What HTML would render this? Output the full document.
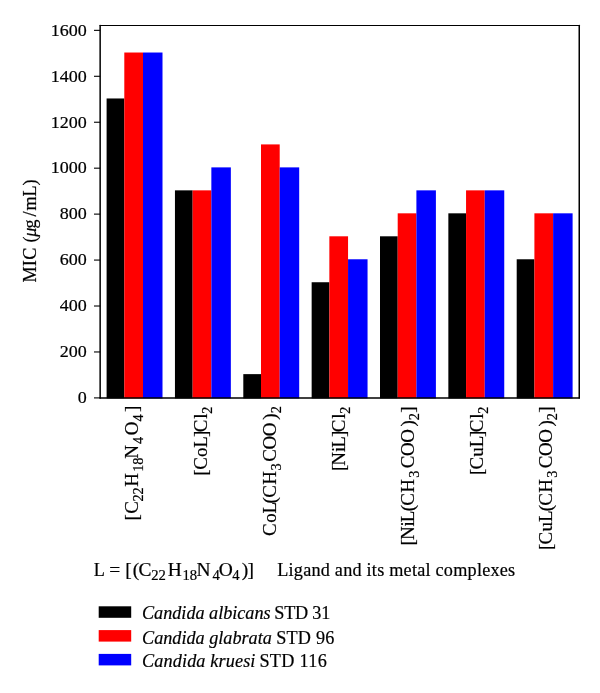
<!DOCTYPE html>
<html lang="en"><head><meta charset="utf-8"><title>MIC chart</title>
<style>
html,body{margin:0;padding:0;background:#fff}
svg{display:block}
text{font-family:"Liberation Serif",serif;fill:#000;stroke:#000;stroke-width:0.2}
.i{font-style:italic}
</style></head><body>
<svg width="600" height="693" viewBox="0 0 600 693">
<rect width="600" height="693" fill="#fff"/>
<rect x="106.60" y="98.47" width="17.70" height="299.93" fill="#000000"/>
<rect x="124.30" y="52.52" width="18.70" height="345.88" fill="#ff0000"/>
<rect x="143.00" y="52.52" width="19.50" height="345.88" fill="#0000ff"/>
<rect x="174.95" y="190.35" width="17.70" height="208.05" fill="#000000"/>
<rect x="192.65" y="190.35" width="18.70" height="208.05" fill="#ff0000"/>
<rect x="211.35" y="167.38" width="19.50" height="231.02" fill="#0000ff"/>
<rect x="243.30" y="374.13" width="17.70" height="24.27" fill="#000000"/>
<rect x="261.00" y="144.41" width="18.70" height="253.99" fill="#ff0000"/>
<rect x="279.70" y="167.38" width="19.50" height="231.02" fill="#0000ff"/>
<rect x="311.65" y="282.24" width="17.70" height="116.16" fill="#000000"/>
<rect x="329.35" y="236.30" width="18.70" height="162.10" fill="#ff0000"/>
<rect x="348.05" y="259.27" width="19.50" height="139.13" fill="#0000ff"/>
<rect x="380.00" y="236.30" width="17.70" height="162.10" fill="#000000"/>
<rect x="397.70" y="213.32" width="18.70" height="185.07" fill="#ff0000"/>
<rect x="416.40" y="190.35" width="19.50" height="208.05" fill="#0000ff"/>
<rect x="448.35" y="213.32" width="17.70" height="185.07" fill="#000000"/>
<rect x="466.05" y="190.35" width="18.70" height="208.05" fill="#ff0000"/>
<rect x="484.75" y="190.35" width="19.50" height="208.05" fill="#0000ff"/>
<rect x="516.70" y="259.27" width="17.70" height="139.13" fill="#000000"/>
<rect x="534.40" y="213.32" width="18.70" height="185.07" fill="#ff0000"/>
<rect x="553.10" y="213.32" width="19.50" height="185.07" fill="#0000ff"/>
<g stroke="#000" fill="none" stroke-linecap="round">
<line x1="100.15" y1="25.50" x2="579.25" y2="25.50" stroke-width="1.2"/>
<line x1="579.25" y1="25.50" x2="579.25" y2="397.95" stroke-width="1.5"/>
<line x1="100.15" y1="397.95" x2="579.25" y2="397.95" stroke-width="1.65"/>
<line x1="100.15" y1="25.50" x2="100.15" y2="397.95" stroke-width="1.5"/>
<line x1="94" y1="397.90" x2="100.15" y2="397.90" stroke-width="1.1" stroke-linecap="butt"/>
<line x1="94" y1="351.96" x2="100.15" y2="351.96" stroke-width="1.1" stroke-linecap="butt"/>
<line x1="94" y1="306.01" x2="100.15" y2="306.01" stroke-width="1.1" stroke-linecap="butt"/>
<line x1="94" y1="260.07" x2="100.15" y2="260.07" stroke-width="1.1" stroke-linecap="butt"/>
<line x1="94" y1="214.12" x2="100.15" y2="214.12" stroke-width="1.1" stroke-linecap="butt"/>
<line x1="94" y1="168.18" x2="100.15" y2="168.18" stroke-width="1.1" stroke-linecap="butt"/>
<line x1="94" y1="122.24" x2="100.15" y2="122.24" stroke-width="1.1" stroke-linecap="butt"/>
<line x1="94" y1="76.29" x2="100.15" y2="76.29" stroke-width="1.1" stroke-linecap="butt"/>
<line x1="94" y1="30.35" x2="100.15" y2="30.35" stroke-width="1.1" stroke-linecap="butt"/>
</g>
<text transform="translate(86.70,403.20) scale(1.03,1)" font-size="17.5" text-anchor="end">0</text>
<text transform="translate(86.70,357.26) scale(1.03,1)" font-size="17.5" text-anchor="end">200</text>
<text transform="translate(86.70,311.31) scale(1.03,1)" font-size="17.5" text-anchor="end">400</text>
<text transform="translate(86.70,265.37) scale(1.03,1)" font-size="17.5" text-anchor="end">600</text>
<text transform="translate(86.70,219.43) scale(1.03,1)" font-size="17.5" text-anchor="end">800</text>
<text transform="translate(86.70,173.48) scale(1.03,1)" font-size="17.5" text-anchor="end">1000</text>
<text transform="translate(86.70,127.54) scale(1.03,1)" font-size="17.5" text-anchor="end">1200</text>
<text transform="translate(86.70,81.59) scale(1.03,1)" font-size="17.5" text-anchor="end">1400</text>
<text transform="translate(86.70,35.65) scale(1.03,1)" font-size="17.5" text-anchor="end">1600</text>
<text transform="translate(138.20,0) rotate(-90) scale(1.04,1)" font-size="18.2"><tspan x="-500.49">[</tspan><tspan x="-494.02">C</tspan><tspan x="-482.33" dy="4.8" font-size="13.7">22</tspan><tspan x="-468.02" dy="-4.8">H</tspan><tspan x="-453.70" dy="4.8" font-size="13.7">18</tspan><tspan x="-441.01" dy="-4.8">N</tspan><tspan x="-427.00" dy="4.8" font-size="13.7">4</tspan><tspan x="-418.63" dy="-4.8">O</tspan><tspan x="-405.27" dy="4.8" font-size="13.7">4</tspan><tspan x="-396.14" dy="-4.8">]</tspan></text>
<text transform="translate(207.30,0) rotate(-90) scale(1.04,1)" font-size="18.2"><tspan x="-457.41">[</tspan><tspan x="-451.80">C</tspan><tspan x="-439.54">o</tspan><tspan x="-430.52">L</tspan><tspan x="-420.18">]</tspan><tspan x="-415.55">C</tspan><tspan x="-402.77">l</tspan><tspan x="-397.91" dy="4.8" font-size="13.7">2</tspan></text>
<text transform="translate(276.00,0) rotate(-90) scale(1.04,1)" font-size="18.2"><tspan x="-515.46">C</tspan><tspan x="-502.71">o</tspan><tspan x="-493.70">L</tspan><tspan x="-484.17">(</tspan><tspan x="-478.73">C</tspan><tspan x="-466.10">H</tspan><tspan x="-452.39" dy="4.8" font-size="13.7">3</tspan><tspan x="-444.02" dy="-4.8">C</tspan><tspan x="-432.28">O</tspan><tspan x="-419.59">O</tspan><tspan x="-403.66">)</tspan><tspan x="-397.43" dy="4.8" font-size="13.7">2</tspan></text>
<text transform="translate(345.30,0) rotate(-90) scale(1.04,1)" font-size="18.2"><tspan x="-452.89">[</tspan><tspan x="-447.83">N</tspan><tspan x="-434.71">i</tspan><tspan x="-430.43">L</tspan><tspan x="-420.18">]</tspan><tspan x="-415.55">C</tspan><tspan x="-402.77">l</tspan><tspan x="-397.91" dy="4.8" font-size="13.7">2</tspan></text>
<text transform="translate(414.20,0) rotate(-90) scale(1.04,1)" font-size="18.2"><tspan x="-524.52">[</tspan><tspan x="-519.27">N</tspan><tspan x="-506.15">i</tspan><tspan x="-502.06">L</tspan><tspan x="-491.67">(</tspan><tspan x="-486.23">C</tspan><tspan x="-473.70">H</tspan><tspan x="-459.41" dy="4.8" font-size="13.7">3</tspan><tspan x="-450.31" dy="-4.8">C</tspan><tspan x="-438.44">O</tspan><tspan x="-425.84">O</tspan><tspan x="-410.20">)</tspan><tspan x="-404.06" dy="4.8" font-size="13.7">2</tspan><tspan x="-396.91" dy="-4.8">]</tspan></text>
<text transform="translate(483.30,0) rotate(-90) scale(1.04,1)" font-size="18.2"><tspan x="-456.83">[</tspan><tspan x="-451.52">C</tspan><tspan x="-439.09">u</tspan><tspan x="-429.95">L</tspan><tspan x="-420.18">]</tspan><tspan x="-415.55">C</tspan><tspan x="-402.77">l</tspan><tspan x="-397.91" dy="4.8" font-size="13.7">2</tspan></text>
<text transform="translate(552.20,0) rotate(-90) scale(1.04,1)" font-size="18.2"><tspan x="-528.85">[</tspan><tspan x="-523.53">C</tspan><tspan x="-511.11">u</tspan><tspan x="-501.97">L</tspan><tspan x="-491.67">(</tspan><tspan x="-486.23">C</tspan><tspan x="-473.70">H</tspan><tspan x="-459.41" dy="4.8" font-size="13.7">3</tspan><tspan x="-450.31" dy="-4.8">C</tspan><tspan x="-438.44">O</tspan><tspan x="-425.84">O</tspan><tspan x="-410.20">)</tspan><tspan x="-404.06" dy="4.8" font-size="13.7">2</tspan><tspan x="-396.91" dy="-4.8">]</tspan></text>
<text transform="translate(36.20,0) rotate(-90) scale(1.0,1)" font-size="18.2"><tspan x="-282.42">M</tspan><tspan x="-266.16">I</tspan><tspan x="-259.85">C </tspan><tspan x="-242.55">(</tspan><tspan x="-236.78" class="i">μ</tspan><tspan x="-228.38">g</tspan><tspan x="-216.60">/</tspan><tspan x="-210.58">m</tspan><tspan x="-196.62">L</tspan><tspan x="-185.44">)</tspan></text>
<text transform="translate(0,575.70) scale(1.0,1)" font-size="18.2"><tspan x="93.68">L </tspan></text>
<text transform="translate(0,575.70) scale(1.07,1)" font-size="18.2"><tspan x="102.13">= </tspan><tspan x="117.11">[</tspan><tspan x="123.97">(</tspan><tspan x="129.35">C</tspan><tspan x="141.27" dy="4.4" font-size="13.7">22</tspan><tspan x="156.77" dy="-4.4">H</tspan><tspan x="170.57" dy="4.4" font-size="13.7">18</tspan><tspan x="183.59" dy="-4.4">N</tspan><tspan x="198.61" dy="4.4" font-size="13.7">4</tspan><tspan x="204.39" dy="-4.4">O</tspan><tspan x="217.02" dy="4.4" font-size="13.7">4</tspan><tspan x="226.05" dy="-4.4">)</tspan><tspan x="231.30">]</tspan></text>
<text transform="translate(277.20,575.60) scale(1.0,1)" font-size="18.2" textLength="238.00" lengthAdjust="spacing">Ligand and its metal complexes</text>
<rect x="98.7" y="606.30" width="32.5" height="11.5" fill="#000"/>
<text transform="translate(142.00,619.00) scale(1.0,1)" font-size="18.2" textLength="128.60" lengthAdjust="spacing"><tspan class="i">Candida albicans</tspan></text>
<text transform="translate(274.30,619.00) scale(1.0,1)" font-size="18.2" textLength="56.00" lengthAdjust="spacing">STD 31</text>
<rect x="98.7" y="630.10" width="32.5" height="11.5" fill="#f00"/>
<text transform="translate(142.00,644.35) scale(1.0,1)" font-size="18.2" textLength="129.80" lengthAdjust="spacing"><tspan class="i">Candida glabrata</tspan></text>
<text transform="translate(276.20,644.35) scale(1.0,1)" font-size="18.2" textLength="58.20" lengthAdjust="spacing">STD 96</text>
<rect x="98.7" y="653.90" width="32.5" height="11.5" fill="#00f"/>
<text transform="translate(142.00,666.60) scale(1.0,1)" font-size="18.2" textLength="113.40" lengthAdjust="spacing"><tspan class="i">Candida kruesi</tspan></text>
<text transform="translate(259.40,666.60) scale(1.0,1)" font-size="18.2" textLength="67.40" lengthAdjust="spacing">STD 116</text>
</svg>
</body></html>
